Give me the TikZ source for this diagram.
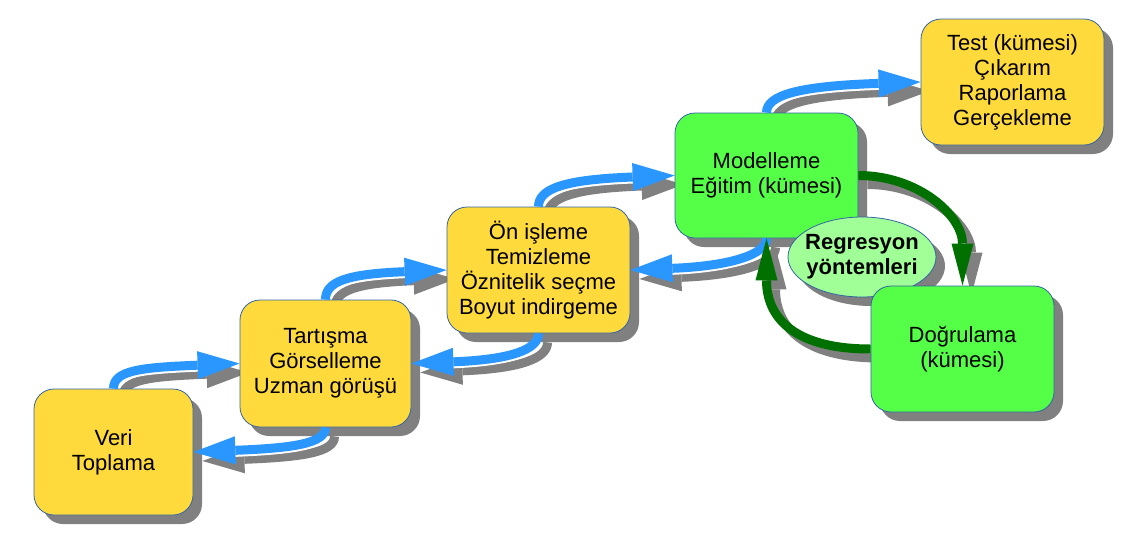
\documentclass[tikz,border=0pt]{standalone}
\usepackage{fontspec}
\setmainfont{Liberation Sans}
\usetikzlibrary{arrows.meta,shadows,shapes.geometric}
\pgfdeclarelayer{background}
\pgfsetlayers{background,main}
\definecolor{boxyellow}{HTML}{FFDA3C}
\definecolor{boxgreen}{HTML}{55FF48}
\definecolor{ovalgreen}{HTML}{A0FF96}
\definecolor{edge}{HTML}{3465A4}
\definecolor{shade}{HTML}{808080}
\definecolor{arrowblue}{HTML}{2A96FF}
\definecolor{arrowgreen}{HTML}{007000}
\newcommand\linkflow[3]{%
  \begin{pgfonlayer}{background}
    \draw[#1, draw=shade, transform canvas={shift={(9pt,-9pt)}}] #3;
    \draw[#2] #3;
  \end{pgfonlayer}
  \draw[#1] #3;}
\begin{document}
\begin{tikzpicture}[x=1pt,y=-1pt,
  fs/.style={font=\fontsize{22}{25}\selectfont},
  card/.style={rounded corners=20pt, draw=edge, line width=0.8pt, align=center,
    inner sep=0pt, fs,
    drop shadow={shadow xshift=9pt, shadow yshift=-9pt, fill=shade, opacity=1}},
  ybox/.style={card, fill=boxyellow},
  gbox/.style={card, fill=boxgreen},
  oval/.style={ellipse, draw=edge, line width=0.8pt, fill=ovalgreen, align=center,
    inner xsep=-6pt, inner ysep=0pt, minimum width=148pt, minimum height=80pt,
    font=\fontsize{22}{25}\selectfont\bfseries,
    drop shadow={shadow xshift=9pt, shadow yshift=-9pt, fill=shade, opacity=1}},
  casing/.style={draw=white, line width=13pt, shorten >=40pt},
  nocasing/.style={draw=none},
  bluearrow/.style={line width=9pt, draw=arrowblue,
    -{Triangle[length=42pt,width=28pt,line width=0pt]}},
  greenarrow/.style={line width=9pt, draw=arrowgreen,
    -{Triangle[length=42pt,width=22pt,line width=0pt]}}
]
\useasboundingbox (0,0) rectangle (1145,541);

\node[ybox, minimum width=159pt, minimum height=126pt] (veri) at (113.5,452) {Veri\\Toplama};
\node[ybox, minimum width=171pt, minimum height=127pt] (tart) at (325.5,363.5) {Tartışma\\Görselleme\\Uzman görüşü};
\node[ybox, minimum width=183pt, minimum height=126pt] (on) at (538.5,270) {Ön işleme\\Temizleme\\Öznitelik seçme\\Boyut indirgeme};
\node[gbox, minimum width=183pt, minimum height=125pt] (mod) at (766.5,175.5) {Modelleme\\Eğitim (kümesi)};
\node[ybox, minimum width=183pt, minimum height=126pt] (test) at (1012.5,82) {Test (kümesi)\\Çıkarım\\Raporlama\\Gerçekleme};
\node[oval] (reg) at (862,257) {Regresyon\\yöntemleri};
\node[gbox, minimum width=183pt, minimum height=126pt] (dog) at (962.5,349) {Doğrulama\\(kümesi)};

\linkflow{bluearrow}{casing}{(veri.north) .. controls +(0,-18) and +(-100,4) .. (tart.west)}
\linkflow{bluearrow}{casing}{(tart.north) .. controls +(0,-18) and +(-100,4) .. (on.west)}
\linkflow{bluearrow}{casing}{(on.north) .. controls +(0,-18) and +(-110,4) .. (mod.west)}
\linkflow{bluearrow}{casing}{(mod.north) .. controls +(0,-18) and +(-120,4) .. (test.west)}
\linkflow{bluearrow}{casing}{(tart.south) .. controls +(0,16) and +(100,-4) .. (veri.east)}
\linkflow{bluearrow}{casing}{(on.south) .. controls +(0,16) and +(100,-4) .. (tart.east)}
\linkflow{bluearrow}{casing}{(mod.south) .. controls +(0,16) and +(100,-4) .. (on.east)}
\linkflow{greenarrow}{nocasing}{(mod.east) .. controls +(60,0) and +(0,-70) .. (dog.north)}
\linkflow{greenarrow}{nocasing}{(dog.west) .. controls +(-78,0) and +(0,78) .. (mod.south)}
\end{tikzpicture}
\end{document}
